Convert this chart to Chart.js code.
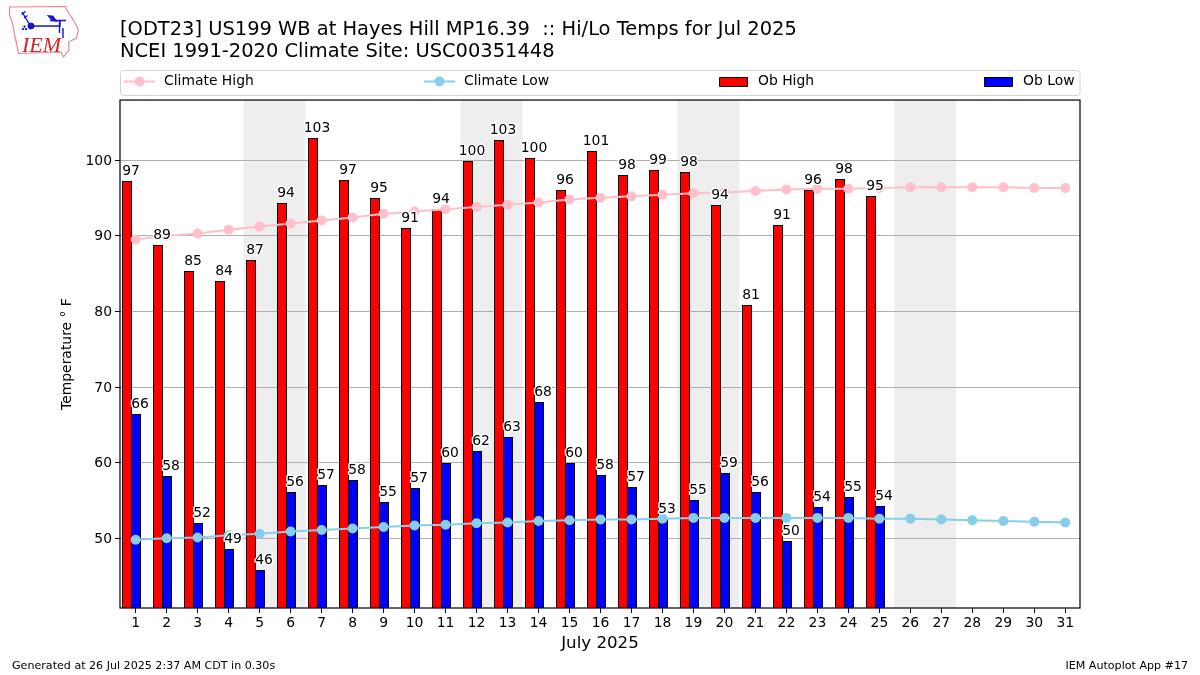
<!DOCTYPE html>
<html>
<head>
<meta charset="utf-8">
<title>Hi/Lo Temps</title>
<script src="https://cdn.jsdelivr.net/npm/chart.js@4/dist/chart.umd.js"></script>
<style>
  html, body { margin: 0; padding: 0; background: #fff; overflow: hidden; }
  #wrap { position: relative; width: 1200px; height: 675px; }
  #logo { position: absolute; left: 0; top: 0; }
  canvas { display: block; }
</style>
</head>
<body>
<div id="wrap">
  <canvas id="chart" width="1200" height="675"></canvas>
  <svg id="logo" width="90" height="65" viewBox="0 0 90 65">
    <path d="M9.5 7 L65.5 6.5 L68 12 L74 21 L78.5 30 L76.5 38 L68.5 42 L69 50 L63.5 57 L61 52 L18.5 53.5 L16.5 43 L15 37 L12.5 23 L9.5 15 Z"
          fill="#fff" stroke="#e58a8f" stroke-width="1.2"/>
    <g stroke="#1414d2" fill="#1414d2">
      <path d="M31 26 H60 V20.5 M50 20.5 H66 M59.5 20.5 V33 M63 28 V38 M22 12 L30 25 M21.5 14.5 L25.5 11.5 M24 18 L27.5 15.5" stroke-width="1.4" fill="none"/>
      <circle cx="31" cy="26" r="3"/>
      <path d="M47.5 15.5 L53 16 L57 21.5 L52 20.5 Z" stroke-width="0.8"/>
      <circle cx="23" cy="29" r="0.8"/><circle cx="26" cy="29" r="0.8"/><circle cx="24.5" cy="26.5" r="0.7"/>
    </g>
    <text x="22" y="51.5" font-family="Liberation Serif" font-style="italic" font-size="22" fill="#d8232a">IEM</text>
  </svg>
</div>
<script>
const days = [1, 2, 3, 4, 5, 6, 7, 8, 9, 10, 11, 12, 13, 14, 15, 16, 17, 18, 19, 20, 21, 22, 23, 24, 25, 26, 27, 28, 29, 30, 31];
const obHigh = [97.2, 88.8, 85.3, 84.0, 86.8, 94.3, 102.9, 97.3, 95.0, 91.0, 93.5, 99.9, 102.6, 100.3, 96.0, 101.2, 98.0, 98.7, 98.4, 94.0, 80.9, 91.4, 96.0, 97.5, 95.2];
const obLow = [66.4, 58.2, 52.0, 48.6, 45.8, 56.1, 57.0, 57.7, 54.8, 56.6, 60.0, 61.6, 63.4, 68.0, 60.0, 58.4, 56.8, 52.6, 55.0, 58.6, 56.1, 49.7, 54.1, 55.4, 54.3];
const climateHigh = [89.5, 90.0, 90.3, 90.8, 91.2, 91.6, 92.0, 92.4, 92.9, 93.2, 93.5, 93.8, 94.1, 94.4, 94.8, 95.0, 95.2, 95.4, 95.6, 95.7, 95.9, 96.1, 96.2, 96.2, 96.3, 96.4, 96.4, 96.4, 96.4, 96.3, 96.3];
const climateLow = [49.8, 50.0, 50.1, 50.4, 50.6, 50.9, 51.1, 51.3, 51.5, 51.7, 51.8, 52.0, 52.1, 52.3, 52.4, 52.5, 52.5, 52.6, 52.7, 52.7, 52.7, 52.7, 52.7, 52.7, 52.6, 52.6, 52.5, 52.4, 52.3, 52.2, 52.1];
const yTicks = [50, 60, 70, 80, 90, 100];
const weekendStarts = [5, 12, 19, 26];

const FONT = "'DejaVu Sans'";
Chart.defaults.font.family = FONT;
Chart.defaults.color = "#000";

const BAR_SHIFT = -0.145; // pair of bars sits left of the day tick

const toPoints = (values, shift = 0) => values.map((y, i) => ({ x: days[i] + shift, y }));

// weekend shading, goes under the grid lines
const weekendBands = {
  id: "weekendBands",
  beforeDraw(chart) {
    const { ctx, chartArea, scales } = chart;
    ctx.save();
    ctx.fillStyle = "#eeeeee";
    for (const d of weekendStarts) {
      const x0 = scales.x.getPixelForValue(d - 0.52);
      const x1 = scales.x.getPixelForValue(d + 1.48);
      ctx.fillRect(x0, chartArea.top, x1 - x0, chartArea.bottom - chartArea.top);
    }
    ctx.restore();
  }
};

// snap bars to whole pixels so the black edges stay crisp, neighbours share one edge
const snapBars = {
  id: "snapBars",
  beforeDatasetsDraw(chart) {
    chart.data.datasets.forEach((ds, idx) => {
      if (ds.type === "line") return;
      chart.getDatasetMeta(idx).data.forEach((bar) => {
        const left = Math.round(bar.x - bar.width / 2);
        const right = Math.round(bar.x + bar.width / 2) + 1;
        bar.width = right - left;
        bar.x = left + bar.width / 2;
        bar.y = Math.round(bar.y);
      });
    });
  }
};

// value labels with white halo, frame, legend box and footer
const annotations = {
  id: "annotations",
  afterDatasetsDraw(chart) {
    const { ctx, chartArea } = chart;
    ctx.save();
    ctx.strokeStyle = "#000";
    ctx.lineWidth = 1.2;
    ctx.strokeRect(chartArea.left, chartArea.top, chartArea.right - chartArea.left, chartArea.bottom - chartArea.top);

    ctx.font = `13.9px ${FONT}`;
    ctx.textAlign = "center";
    ctx.textBaseline = "alphabetic";
    ctx.lineJoin = "round";
    chart.data.datasets.forEach((ds, idx) => {
      if (ds.type === "line") return;
      chart.getDatasetMeta(idx).data.forEach((bar, i) => {
        const text = String(Math.round(ds.data[i].y));
        ctx.strokeStyle = "#fff";
        ctx.lineWidth = 3;
        ctx.strokeText(text, bar.x + 4, bar.y - 6);
        ctx.fillStyle = "#000";
        ctx.fillText(text, bar.x + 4, bar.y - 6);
      });
    });

    // legend
    ctx.beginPath();
    ctx.roundRect(120.5, 70.5, 959.5, 25, 3);
    ctx.strokeStyle = "#d4d4d4";
    ctx.lineWidth = 1;
    ctx.fillStyle = "#fff";
    ctx.fill();
    ctx.stroke();

    ctx.textAlign = "left";
    ctx.textBaseline = "middle";
    const legendX = [124, 424, 719, 984];
    chart.data.datasets.forEach((ds, idx) => {
      const x = legendX[idx];
      if (ds.type === "line") {
        ctx.strokeStyle = ds.borderColor;
        ctx.lineWidth = 2;
        ctx.beginPath();
        ctx.moveTo(x, 81.5);
        ctx.lineTo(x + 31, 81.5);
        ctx.stroke();
        ctx.fillStyle = ds.borderColor;
        ctx.beginPath();
        ctx.arc(x + 15.5, 81.5, 5, 0, Math.PI * 2);
        ctx.fill();
      } else {
        ctx.fillStyle = ds.backgroundColor;
        ctx.strokeStyle = "#000";
        ctx.lineWidth = 1;
        ctx.fillRect(x + 0.5, 77.5, 28, 9);
        ctx.strokeRect(x + 0.5, 77.5, 28, 9);
      }
      ctx.fillStyle = "#000";
      ctx.fillText(ds.label, x + (ds.type === "line" ? 40 : 39), 81.5);
    });

    // footer
    ctx.font = `11.1px ${FONT}`;
    ctx.fillText("Generated at 26 Jul 2025 2:37 AM CDT in 0.30s", 12, 666.5);
    ctx.textAlign = "right";
    ctx.fillText("IEM Autoplot App #17", 1188, 666.5);
    ctx.restore();
  }
};

new Chart(document.getElementById("chart"), {
  type: "bar",
  data: {
    datasets: [
      {
        type: "line",
        label: "Climate High",
        data: toPoints(climateHigh),
        borderColor: "#ffc0cb",
        backgroundColor: "#ffc0cb",
        borderWidth: 2,
        pointRadius: 5,
        pointBorderWidth: 0,
        tension: 0,
        order: 0
      },
      {
        type: "line",
        label: "Climate Low",
        data: toPoints(climateLow),
        borderColor: "#87ceeb",
        backgroundColor: "#87ceeb",
        borderWidth: 2,
        pointRadius: 5,
        pointBorderWidth: 0,
        tension: 0,
        order: 0
      },
      {
        label: "Ob High",
        data: toPoints(obHigh, BAR_SHIFT),
        backgroundColor: "#ff0000",
        borderColor: "#000",
        borderWidth: 1,
        borderSkipped: false,
        categoryPercentage: 0.6,
        barPercentage: 1,
        order: 1
      },
      {
        label: "Ob Low",
        data: toPoints(obLow, BAR_SHIFT),
        backgroundColor: "#0000ff",
        borderColor: "#000",
        borderWidth: 1,
        borderSkipped: false,
        categoryPercentage: 0.6,
        barPercentage: 1,
        order: 1
      }
    ]
  },
  options: {
    responsive: false,
    animation: false,
    layout: {
      autoPadding: false,
      padding: { top: 19, right: 120, bottom: 0, left: 0 }
    },
    plugins: {
      legend: { display: false },
      tooltip: { enabled: false },
      title: {
        display: true,
        fullSize: false,
        align: "start",
        text: ["[ODT23] US199 WB at Hayes Hill MP16.39  :: Hi/Lo Temps for Jul 2025", "NCEI 1991-2020 Climate Site: USC00351448"],
        font: { size: 19.44, weight: "normal", lineHeight: 1.12 },
        padding: { top: 0, bottom: 37.5 }
      }
    },
    scales: {
      x: {
        type: "linear",
        min: 0.494,
        max: 31.474,
        offset: false,
        afterFit: (scale) => { scale.height = 67; },
        afterBuildTicks: (scale) => { scale.ticks = days.map((value) => ({ value })); },
        grid: { drawOnChartArea: false, drawTicks: true, tickLength: 5, tickColor: "#000", offset: false },
        border: { display: false },
        ticks: { font: { size: 13.9 }, padding: 2, maxRotation: 0, autoSkip: false, callback: (v) => String(v) },
        title: {
          display: true,
          text: "July 2025",
          font: { size: 16.67, lineHeight: 1.2 },
          padding: { top: 0, bottom: 21 }
        }
      },
      y: {
        min: 40.79,
        max: 107.93,
        afterFit: (scale) => { scale.width = 120; },
        afterBuildTicks: (scale) => { scale.ticks = yTicks.map((value) => ({ value })); },
        grid: { color: "#b0b0b0", lineWidth: 1, tickLength: 5, tickColor: "#000" },
        border: { display: false },
        ticks: { font: { size: 13.9 }, padding: 3, labelOffset: 1, callback: (v) => String(v) },
        title: {
          display: true,
          text: "Temperature ° F",
          font: { size: 13.9, lineHeight: 1.2 },
          padding: { top: 58.7, bottom: 0 }
        }
      }
    }
  },
  plugins: [weekendBands, snapBars, annotations]
});
</script>
</body>
</html>
